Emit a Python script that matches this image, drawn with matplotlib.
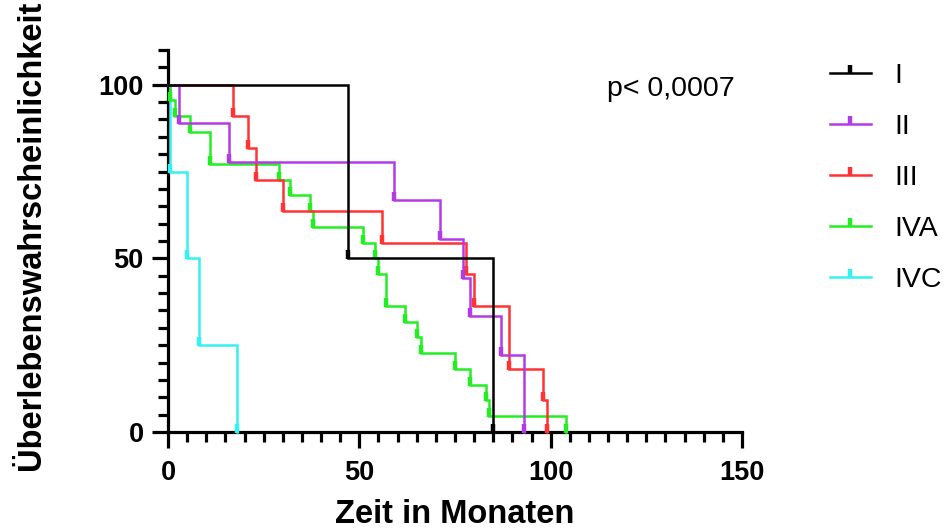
"""Kaplan-Meier-Kurven (Überleben nach Stadium), nachgezeichnet als Stufenplot."""

import matplotlib
matplotlib.use("Agg")
import matplotlib.pyplot as plt
from matplotlib.lines import Line2D
from matplotlib.path import Path

plt.rcParams["font.family"] = ["Liberation Sans", "DejaVu Sans"]

# Ereigniszeitpunkte (Monate) und Überlebenswahrscheinlichkeit (%) je Stadium
stadium_labels = ["I", "II", "III", "IVA", "IVC"]

zeit_I = [0, 47, 85]
surv_I = [100, 50, 0]

zeit_II = [0, 3, 16, 59, 71, 77, 79, 87, 93]
surv_II = [100, 88.9, 77.8, 66.7, 55.6, 44.4, 33.3, 22.2, 0]

zeit_III = [0, 17, 21, 23, 30, 56, 78, 80, 89, 98, 99]
surv_III = [100, 90.9, 81.8, 72.7, 63.6, 54.5, 45.5, 36.4, 18.2, 9.1, 0]

zeit_IVA = [0, 0.5, 1.8, 5.7, 11, 29, 32, 37, 38, 51, 54, 55, 57, 62, 65, 66,
            75, 79, 83, 84, 104]
surv_IVA = [100, 95.5, 90.9, 86.4, 77.3, 72.7, 68.2, 63.6, 59.1, 54.5, 50,
            45.5, 36.4, 31.8, 27.3, 22.7, 18.2, 13.6, 9.1, 4.5, 0]

zeit_IVC = [0, 0.5, 5, 8, 18]
surv_IVC = [100, 75, 50, 25, 0]

p_text = "p< 0,0007"

farben = {
    "I": "#000000",
    "II": "#B33BE6",
    "III": "#FF3333",
    "IVA": "#22EE22",
    "IVC": "#33F2F2",
}

# kleiner senkrechter Strich oberhalb des Punktes (wie GraphPad)
TICK = Path([(0, -0.15), (0, 1.0)], [Path.MOVETO, Path.LINETO])


def draw_curve(ax, t, s, color, z):
    ax.step(t, s, where="post", color=color, lw=1.8, zorder=z,
            clip_on=False, solid_joinstyle="miter")
    ax.plot(t[1:], s[1:], ls="none", marker=TICK, ms=11, mew=3.2,
            mec=color, mfc=color, zorder=z, clip_on=False)


fig = plt.figure(figsize=(9.48, 5.30), dpi=100)
ax = fig.add_axes([168 / 948, 1 - 432 / 530, (742 - 168) / 948, (432 - 50) / 530])

daten = {
    "I": (zeit_I, surv_I),
    "II": (zeit_II, surv_II),
    "III": (zeit_III, surv_III),
    "IVA": (zeit_IVA, surv_IVA),
    "IVC": (zeit_IVC, surv_IVC),
}
# schwarz zuletzt, damit es oben liegt
for i, lab in enumerate(reversed(stadium_labels)):
    t, s = daten[lab]
    draw_curve(ax, t, s, farben[lab], 3 + i)

ax.set_xlim(0, 150)
ax.set_ylim(0, 110)
ax.set_xticks([0, 50, 100, 150])
ax.set_xticks(range(0, 151, 5), minor=True)
ax.set_yticks([0, 50, 100])
ax.set_yticks(range(0, 111, 5), minor=True)

for side in ("top", "right"):
    ax.spines[side].set_visible(False)
for side in ("left", "bottom"):
    ax.spines[side].set_linewidth(2.3)
ax.tick_params(which="major", length=11.5, width=2.3, labelsize=19.5)
ax.tick_params(axis="x", which="major", pad=8.5)
ax.tick_params(axis="y", which="major", pad=6)
ax.tick_params(which="minor", length=7, width=2.3)
for lbl in ax.get_xticklabels() + ax.get_yticklabels():
    lbl.set_fontweight("bold")

ax.set_xlabel("Zeit in Monaten", fontsize=23.5, fontweight="bold")
ax.set_ylabel("Überlebenswahrscheinlichkeit", fontsize=23.5, fontweight="bold")
ax.xaxis.set_label_coords(0.5, -0.176)
ax.yaxis.set_label_coords(-0.21, 0.515)

ax.text(0.765, 0.897, p_text, transform=ax.transAxes, fontsize=20.5,
        ha="left", va="center")

handles = [Line2D([0], [0], color=farben[lab], lw=1.8, marker=TICK, ms=11,
                  mew=3.2, mec=farben[lab], mfc=farben[lab])
           for lab in stadium_labels]
fig.legend(handles, stadium_labels, loc="upper left",
           bbox_to_anchor=(804 / 948, 1 - 37 / 530), frameon=False,
           numpoints=1, handlelength=1.44, handletextpad=0.84,
           labelspacing=0.88, prop={"size": 20.5})

fig.savefig("out.png", dpi=100)
